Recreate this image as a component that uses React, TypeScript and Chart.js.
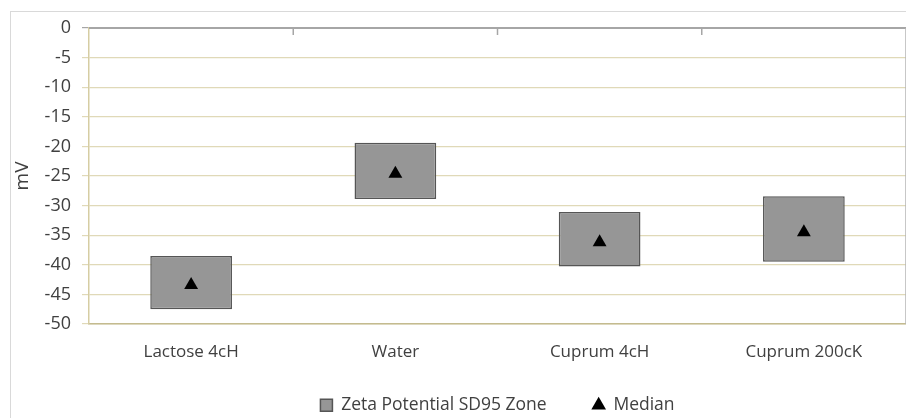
import React, { useEffect, useRef } from "react";
import { Chart, registerables } from "chart.js";

Chart.register(...registerables);

if (typeof document !== "undefined") {
  document.documentElement.style.overflow = "hidden";
  document.body.style.overflow = "hidden";
}

const categories = ["Lactose 4cH", "Water", "Cuprum 4cH", "Cuprum 200cK"];
const zoneLow = [-47.5, -28.9, -40.3, -39.5];
const zoneHigh = [-38.5, -19.4, -31.1, -28.4];
const medians = [-43.4, -24.6, -36.2, -34.5];
const yTicks = [0, -5, -10, -15, -20, -25, -30, -35, -40, -45, -50];

const FONT = "'Open Sans', 'DejaVu Sans', sans-serif";
const TEXT = "#404040";
const GRID = "#e0d9b8";

const topAxisPlugin = {
  id: "topAxis",
  afterLayout(chart: any) {
    // let the category labels extend below the axis box without being clipped
    chart.scales.x.bottom = chart.height;
  },
  afterDatasetsDraw(chart: any) {
    const { ctx, chartArea, scales } = chart;
    const x = scales.x;
    const y = scales.y;
    const y0 = y.getPixelForValue(0);
    ctx.save();
    ctx.strokeStyle = "#a6a6a6";
    ctx.lineWidth = 2;
    ctx.beginPath();
    ctx.moveTo(chartArea.left, y0);
    ctx.lineTo(chartArea.right, y0);
    ctx.stroke();
    ctx.lineWidth = 1.5;
    for (let i = 1; i < categories.length; i++) {
      const bx = (x.getPixelForValue(i - 1) + x.getPixelForValue(i)) / 2;
      ctx.beginPath();
      ctx.moveTo(bx, y0);
      ctx.lineTo(bx, y0 + 7);
      ctx.stroke();
    }
    ctx.strokeStyle = "#b4b4b4";
    ctx.lineWidth = 1.5;
    ctx.beginPath();
    ctx.moveTo(chartArea.right, chartArea.top);
    ctx.lineTo(chartArea.right, chartArea.bottom);
    ctx.stroke();
    ctx.restore();
  },
};

export default function App() {
  const ref = useRef<HTMLCanvasElement | null>(null);

  useEffect(() => {
    if (!ref.current) return;
    Chart.defaults.font.family = FONT;
    const chart = new Chart(ref.current, {
      type: "bar",
      data: {
        labels: categories,
        datasets: [
          {
            type: "bar",
            label: "Zeta Potential SD95 Zone",
            data: categories.map((_, i) => [zoneLow[i], zoneHigh[i]]) as any,
            backgroundColor: "#969696",
            borderColor: "#555555",
            borderWidth: 1.5,
            borderSkipped: false,
            barPercentage: 0.4,
            categoryPercentage: 1,
            pointStyle: "rect",
            order: 2,
          } as any,
          {
            type: "line",
            label: "Median",
            data: medians,
            showLine: false,
            pointStyle: "triangle",
            pointRadius: 8,
            pointBackgroundColor: "#000000",
            pointBorderColor: "#000000",
            pointBorderWidth: 0,
            backgroundColor: "#000000",
            borderColor: "#000000",
            order: 1,
          } as any,
        ],
      },
      options: {
        responsive: false,
        animation: false,
        layout: { padding: { left: 0, right: 6, top: 16, bottom: 0 } },
        plugins: {
          tooltip: { enabled: false },
          legend: {
            position: "bottom",
            fullSize: false,
            labels: {
              usePointStyle: true,
              boxWidth: 12,
              boxHeight: 12,
              padding: 46,
              color: TEXT,
              font: { size: 17.5, family: FONT },
              sort: (a: any, b: any) => a.datasetIndex - b.datasetIndex,
            },
          },
        },
        scales: {
          x: {
            offset: true,
            grid: { drawOnChartArea: false, drawTicks: false },
            border: { color: "#c4bb8f", width: 1.5 },
            ticks: { color: TEXT, font: { size: 17, family: FONT }, padding: 18 },
            afterFit: (s: any) => {
              s.height = 26.5;
            },
          },
          y: {
            min: -50,
            max: 0,
            afterBuildTicks: (s: any) => {
              s.ticks = yTicks.map((v) => ({ value: v }));
            },
            grid: {
              color: (c: any) => (c.tick && c.tick.value === 0 ? "#a6a6a6" : GRID),
              lineWidth: 1.2,
              tickLength: 7,
              drawTicks: true,
            },
            border: { color: "#d6cda3", width: 1.5 },
            ticks: { color: TEXT, font: { size: 18, family: FONT }, padding: 11 },
            title: {
              display: true,
              text: "mV",
              color: TEXT,
              font: { size: 19, family: FONT },
              padding: { top: 0, bottom: 0 },
            },
            afterFit: (s: any) => {
              s.width = 78;
              s.paddingTop = 0;
              s.paddingBottom = 0;
            },
          },
        },
      } as any,
      plugins: [topAxisPlugin],
    });
    return () => chart.destroy();
  }, []);

  return (
    <div
      style={{
        position: "relative",
        left: 2,
        top: 3,
        width: 904,
        height: 413,
        borderTop: "1px solid #d9d9d9",
        borderLeft: "1px solid #d9d9d9",
        boxSizing: "border-box",
      }}
    >
      <canvas ref={ref} width={903} height={412} style={{ display: "block" }} />
    </div>
  );
}
